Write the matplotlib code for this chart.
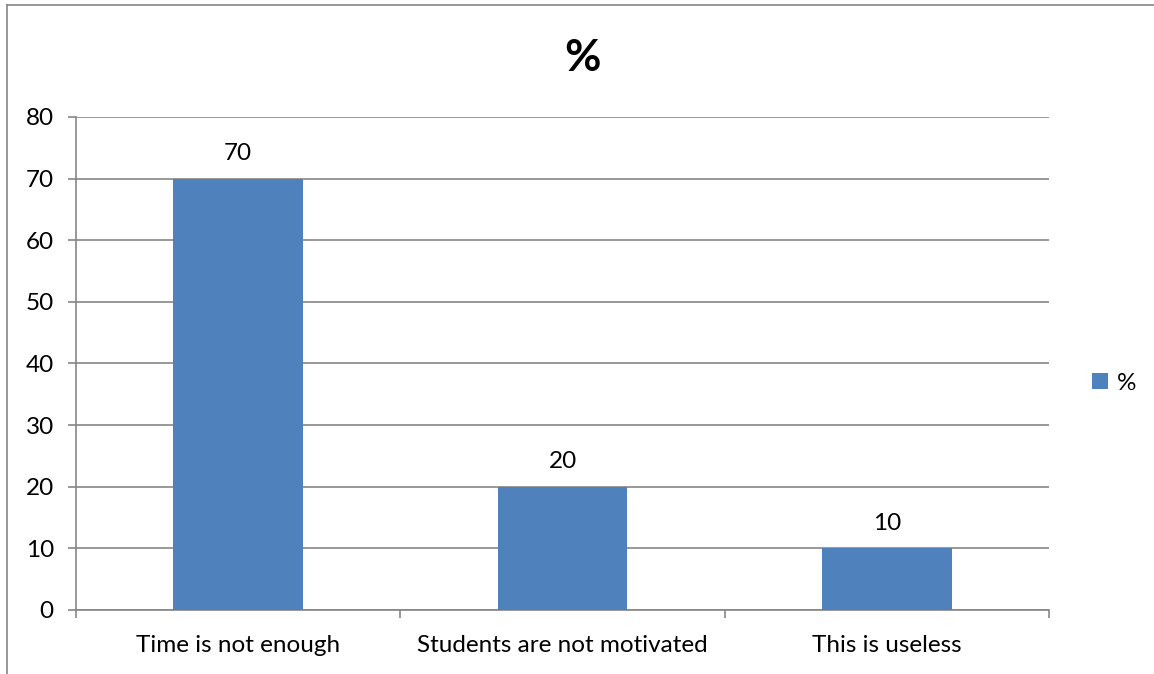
import numpy as np
import matplotlib.pyplot as plt
from matplotlib.lines import Line2D

categories = ["Time is not enough", "Students are not motivated", "This is useless"]
values = [70, 20, 10]
series_name = "%"
y_ticks = [0, 10, 20, 30, 40, 50, 60, 70, 80]

bar_color = "#4F81BD"
grid_color = "#868686"

plt.rcParams['font.family'] = ['Lato', 'DejaVu Sans']
fs = 17.5

fig = plt.figure(figsize=(11.54, 6.74), dpi=100)
ax = fig.add_axes([0.0659, 0.095, 0.8431, 0.7315])

x = np.arange(len(categories))
bars = ax.bar(x, values, width=0.4, color=bar_color, zorder=3, label=series_name)

for b, v in zip(bars, values):
    ax.annotate(str(v), (b.get_x() + b.get_width() / 2, v), xytext=(0, 10.5),
                textcoords="offset points", ha="center", va="bottom", fontsize=fs)

ax.set_xlim(-0.5, len(categories) - 0.5)
ax.set_ylim(0, 80)
ax.set_yticks(y_ticks)
ax.set_xticks(x)
ax.set_xticklabels(categories, fontsize=fs)
ax.set_xticks(np.arange(len(categories) + 1) - 0.5, minor=True)
ax.tick_params(axis="x", which="major", length=0, pad=18)
ax.tick_params(axis="x", which="minor", length=6, width=1.2, color=grid_color, direction="out")
ax.tick_params(axis="y", labelsize=fs, length=6, width=1.2, color=grid_color, pad=10)

ax.grid(axis="y", color=grid_color, linewidth=1.2, zorder=0)
for side in ["top", "right"]:
    ax.spines[side].set_visible(False)
for side in ["left", "bottom"]:
    ax.spines[side].set_color(grid_color)
    ax.spines[side].set_linewidth(1.2)

fig.text(0.505, 0.914, series_name, ha="center", va="center", fontsize=32, fontweight="bold")

ax.legend(loc="center left", bbox_to_anchor=(1.022, 0.46), frameon=False, fontsize=fs,
          handlelength=0.65, handleheight=0.65, handletextpad=0.35)

# chart frame (only top and left edges show)
fig.add_artist(Line2D([0.006, 0.006], [0, 0.992], transform=fig.transFigure,
                      color=grid_color, linewidth=1.2))
fig.add_artist(Line2D([0.006, 1.0], [0.992, 0.992], transform=fig.transFigure,
                      color=grid_color, linewidth=1.2))

fig.savefig("out.png", dpi=100)
